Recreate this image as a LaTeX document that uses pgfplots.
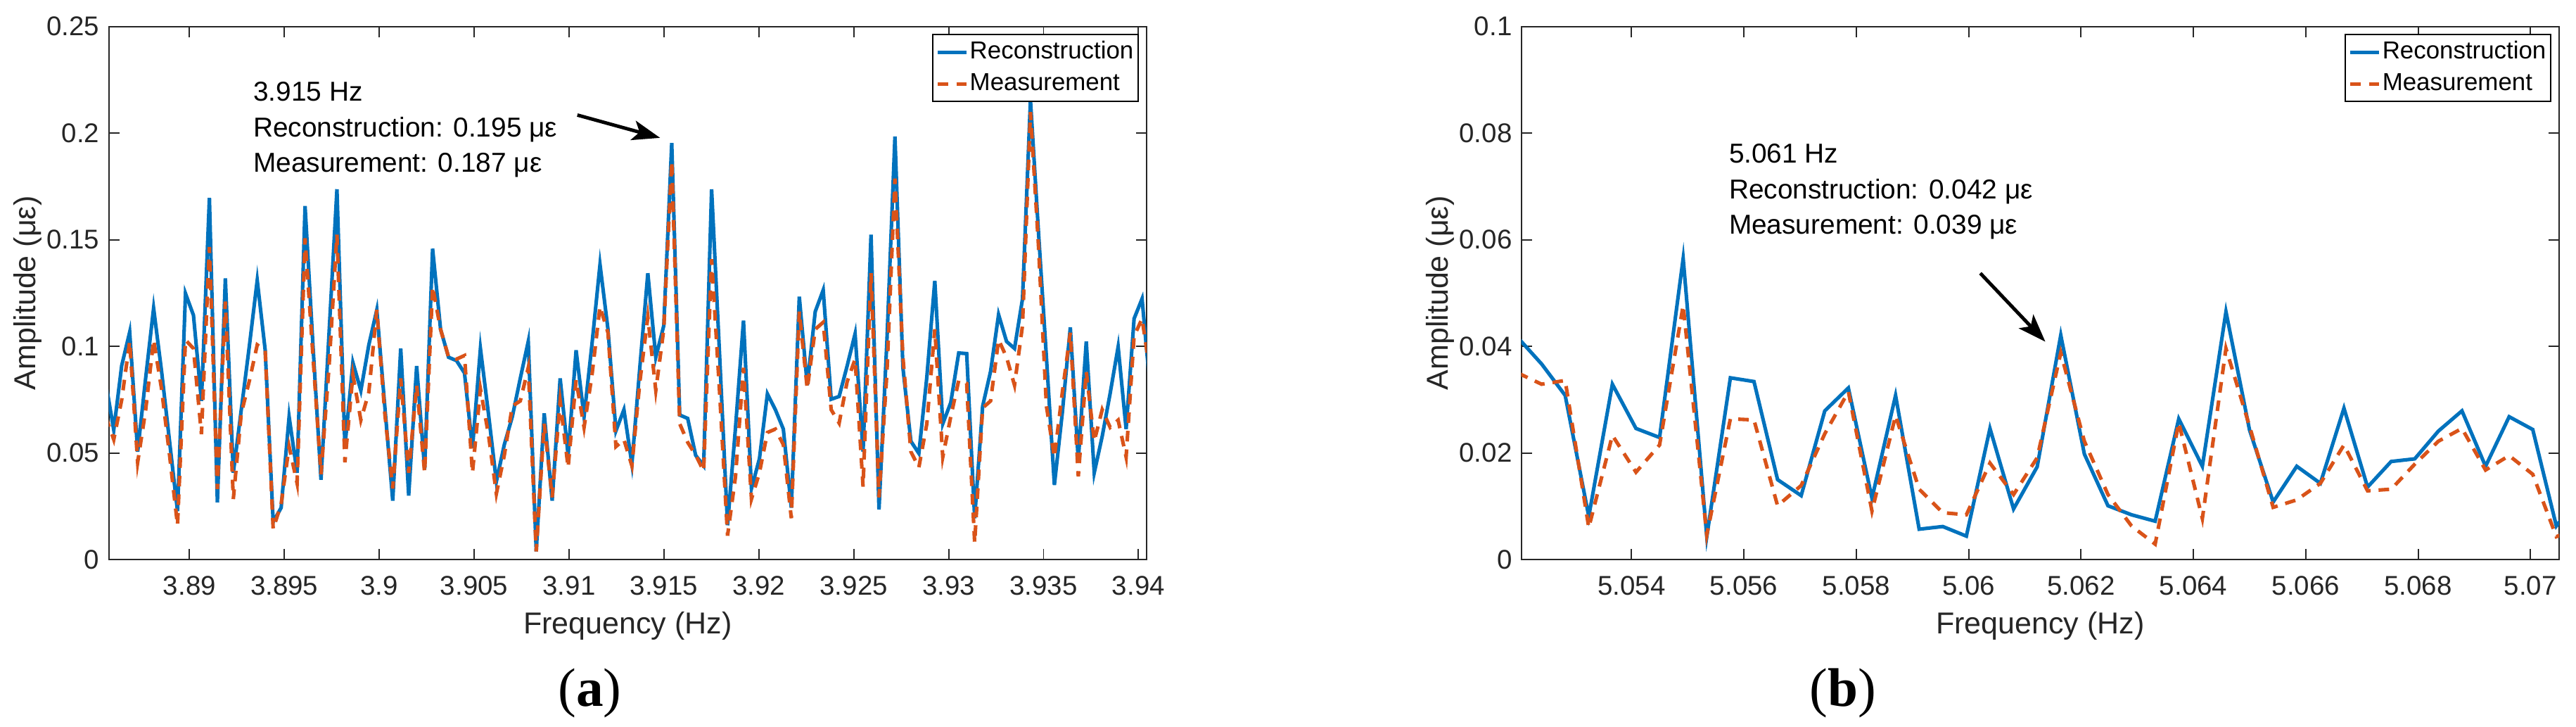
\documentclass[border=0pt]{standalone}
\usepackage{fontspec}
\setmainfont{Liberation Sans}
\newfontfamily\seriffont{Liberation Serif}
\usepackage{pgfplots}
\pgfplotsset{compat=1.18}
\usepackage{pgfplotstable}
\usetikzlibrary{arrows.meta}

\definecolor{mblue}{RGB}{0,114,189}
\definecolor{morange}{RGB}{217,83,25}
\definecolor{axgray}{RGB}{38,38,38}

\pgfplotstableread{
f rec meas
3.88559 0.0830 0.0670
3.88601 0.0608 0.0563
3.88643 0.0910 0.0750
3.88685 0.1067 0.1023
3.88727 0.0506 0.0456
3.88769 0.0850 0.0700
3.88811 0.1179 0.1031
3.88853 0.0883 0.0800
3.88895 0.0555 0.0490
3.88937 0.0227 0.0161
3.88979 0.1248 0.1030
3.89021 0.1146 0.0990
3.89063 0.0744 0.0588
3.89105 0.1696 0.1466
3.89147 0.0268 0.0330
3.89189 0.1319 0.1210
3.89231 0.0407 0.0284
3.89273 0.0703 0.0686
3.89315 0.0998 0.0836
3.89357 0.1310 0.1007
3.89399 0.0982 0.0980
3.89441 0.0177 0.0144
3.89483 0.0243 0.0260
3.89525 0.0670 0.0530
3.89567 0.0407 0.0358
3.89609 0.1658 0.1507
3.89651 0.1000 0.0950
3.89693 0.0374 0.0400
3.89735 0.1056 0.0900
3.89777 0.1737 0.1524
3.89819 0.0530 0.0456
3.89861 0.0924 0.0867
3.89903 0.0793 0.0654
3.89945 0.1007 0.0785
3.89987 0.1171 0.1171
3.90029 0.0720 0.0686
3.90071 0.0276 0.0333
3.90113 0.0990 0.0850
3.90155 0.0300 0.0407
3.90197 0.0908 0.0818
3.90239 0.0424 0.0407
3.90281 0.1458 0.1280
3.90323 0.1080 0.1080
3.90365 0.0949 0.0950
3.90407 0.0933 0.0940
3.90449 0.0875 0.0957
3.90491 0.0522 0.0407
3.90533 0.0990 0.0800
3.90575 0.0686 0.0588
3.90617 0.0366 0.0309
3.90659 0.0540 0.0490
3.90701 0.0670 0.0720
3.90743 0.0850 0.0744
3.90785 0.1023 0.0900
3.90827 0.0038 0.0038
3.90869 0.0686 0.0637
3.90911 0.0276 0.0292
3.90953 0.0850 0.0744
3.90995 0.0489 0.0432
3.91037 0.0982 0.0842
3.91079 0.0670 0.0620
3.91121 0.1013 0.0867
3.91163 0.1384 0.1187
3.91205 0.1080 0.1064
3.91247 0.0604 0.0530
3.91289 0.0703 0.0563
3.91331 0.0448 0.0440
3.91373 0.0903 0.0834
3.91415 0.1343 0.1138
3.91457 0.0949 0.0793
3.91499 0.1097 0.1080
3.91541 0.1954 0.1869
3.91583 0.0678 0.0637
3.91625 0.0662 0.0550
3.91667 0.0489 0.0490
3.91709 0.0440 0.0415
3.91751 0.1737 0.1409
3.91793 0.0962 0.0785
3.91835 0.0161 0.0112
3.91877 0.0620 0.0390
3.91919 0.1121 0.0900
3.91961 0.0333 0.0284
3.92003 0.0473 0.0407
3.92045 0.0777 0.0596
3.92087 0.0703 0.0612
3.92129 0.0612 0.0539
3.92171 0.0243 0.0194
3.92213 0.1233 0.1163
3.92255 0.0818 0.0801
3.92297 0.1163 0.1080
3.92339 0.1264 0.1113
3.92381 0.0752 0.0703
3.92423 0.0765 0.0640
3.92465 0.0908 0.0834
3.92507 0.1059 0.0940
3.92549 0.0506 0.0342
3.92591 0.1524 0.1343
3.92633 0.0235 0.0292
3.92675 0.1034 0.0880
3.92717 0.1984 0.1787
3.92759 0.0900 0.0950
3.92801 0.0555 0.0506
3.92843 0.0498 0.0432
3.92885 0.0856 0.0637
3.92927 0.1307 0.1080
3.92969 0.0637 0.0481
3.93011 0.0736 0.0670
3.93053 0.0969 0.0840
3.93095 0.0966 0.0826
3.93137 0.0194 0.0079
3.93179 0.0719 0.0711
3.93221 0.0883 0.0744
3.93263 0.1149 0.1031
3.93305 0.1023 0.0949
3.93347 0.0990 0.0818
3.93389 0.1222 0.1097
3.93431 0.2156 0.2099
3.93473 0.1540 0.1475
3.93515 0.0950 0.0720
3.93557 0.0350 0.0480
3.93599 0.0690 0.0785
3.93641 0.1089 0.1064
3.93683 0.0465 0.0390
3.93725 0.1023 0.0883
3.93767 0.0407 0.0555
3.93809 0.0578 0.0703
3.93851 0.0780 0.0620
3.93893 0.0998 0.0654
3.93935 0.0612 0.0481
3.93977 0.1130 0.1048
3.94019 0.1223 0.1130
3.94061 0.0806 0.0880
}\tabA

\pgfplotstableread{
f rec meas
5.05198 0.0416 0.0350
5.05240 0.0367 0.0329
5.05282 0.0308 0.0336
5.05324 0.0081 0.0060
5.05366 0.0329 0.0233
5.05408 0.0246 0.0164
5.05450 0.0229 0.0215
5.05492 0.0565 0.0477
5.05534 0.0043 0.0046
5.05576 0.0341 0.0264
5.05618 0.0334 0.0262
5.05660 0.0150 0.0101
5.05702 0.0120 0.0139
5.05744 0.0279 0.0236
5.05786 0.0322 0.0315
5.05828 0.0115 0.0091
5.05870 0.0308 0.0270
5.05912 0.0057 0.0132
5.05954 0.0062 0.0088
5.05996 0.0044 0.0084
5.06038 0.0246 0.0181
5.06080 0.0095 0.0122
5.06122 0.0174 0.0191
5.06164 0.0421 0.0388
5.06206 0.0198 0.0222
5.06248 0.0101 0.0122
5.06290 0.0084 0.0063
5.06332 0.0072 0.0029
5.06374 0.0264 0.0257
5.06416 0.0175 0.0077
5.06458 0.0465 0.0396
5.06500 0.0243 0.0250
5.06542 0.0108 0.0098
5.06584 0.0175 0.0112
5.06626 0.0143 0.0143
5.06668 0.0284 0.0215
5.06710 0.0136 0.0129
5.06752 0.0184 0.0132
5.06794 0.0189 0.0179
5.06836 0.0241 0.0222
5.06878 0.0279 0.0246
5.06920 0.0175 0.0168
5.06962 0.0268 0.0195
5.07004 0.0244 0.0160
5.07046 0.0063 0.0043
5.07088 0.0120 0.0060
}\tabB

\pgfplotsset{
  mystyle/.style={
    scale only axis, width=391.33pt, height=200.9pt,
    anchor=south west,
    axis line style={axgray, line width=0.5pt},
    tick style={axgray, line width=0.5pt},
    tick align=inside, major tick length=4pt,
    scaled x ticks=false, scaled y ticks=false,
    ymin=0,
    /pgf/number format/assume math mode=true,
    /pgf/number format/fixed,
    /pgf/number format/precision=3,
    ticklabel style={font=\fontsize{10.2}{12}\selectfont, text=axgray},
    xticklabel style={yshift=-2.6pt},
    every axis x label/.style={at={(axis description cs:0.5,-0.1392)}, anchor=base},
    every axis y label/.style={at={(axis description cs:-0.0705,0.5)}, rotate=90, anchor=base},
    label style={font=\fontsize{11.4}{13}\selectfont, text=axgray},
    xlabel={Frequency (Hz)},
    ylabel={Amplitude (με)},
    legend style={at={(axis description cs:0.99259,0.98606)}, anchor=north east,
      draw=black, line width=0.5pt, fill=white,
      font=\fontsize{9.25}{11}\selectfont,
      inner xsep=1.2pt, inner ysep=2.5pt, row sep=4pt,
      nodes={inner xsep=0.6pt, inner ysep=0pt}},
    legend cell align=left,
    legend image code/.code={\draw[##1] (0pt,0pt) -- (10.8pt,0pt);},
    rec/.style={mblue, line width=1.35pt},
    meas/.style={morange, line width=1.35pt, dash pattern=on 4pt off 3pt},
  }
}

\begin{document}
\begin{tikzpicture}
\path[use as bounding box] (0,0) rectangle (971.35pt,274pt);

\begin{axis}[mystyle, at={(41.03pt,63.1pt)},
  xmin=3.88575, xmax=3.94043, ymax=0.25,
  xtick={3.89,3.895,3.9,3.905,3.91,3.915,3.92,3.925,3.93,3.935,3.94},
  ytick={0,0.05,0.1,0.15,0.2,0.25}]
\addplot[rec] table[x=f, y=rec] {\tabA};
\addlegendentry{Reconstruction}
\addplot[meas] table[x=f, y=meas] {\tabA};
\addlegendentry{Measurement}
\node[anchor=base west, font=\fontsize{10.3}{12}\selectfont, inner sep=0pt] at (axis cs:3.893343,0.21492) {3.915 Hz};
\node[anchor=base west, font=\fontsize{10.3}{12}\selectfont, inner sep=0pt] at (axis cs:3.893343,0.19816) {Reconstruction: 0.195 με};
\node[anchor=base west, font=\fontsize{10.3}{12}\selectfont, inner sep=0pt] at (axis cs:3.893343,0.18179) {Measurement: 0.187 με};
\draw[line width=1.3pt, -{Stealth[length=10.5pt, width=7.5pt, inset=2.5pt]}] (axis cs:3.910437,0.20849) -- (axis cs:3.914796,0.19780);
\end{axis}

\begin{axis}[mystyle, at={(573.66pt,63.1pt)},
  xmin=5.05204, xmax=5.07051, ymax=0.1,
  xtick={5.054,5.056,5.058,5.06,5.062,5.064,5.066,5.068,5.07},
  ytick={0,0.02,0.04,0.06,0.08,0.1}]
\addplot[rec] table[x=f, y=rec] {\tabB};
\addlegendentry{Reconstruction}
\addplot[meas] table[x=f, y=meas] {\tabB};
\addlegendentry{Measurement}
\node[anchor=base west, font=\fontsize{10.3}{12}\selectfont, inner sep=0pt] at (axis cs:5.055727,0.07443) {5.061 Hz};
\node[anchor=base west, font=\fontsize{10.3}{12}\selectfont, inner sep=0pt] at (axis cs:5.055727,0.06768) {Reconstruction: 0.042 με};
\node[anchor=base west, font=\fontsize{10.3}{12}\selectfont, inner sep=0pt] at (axis cs:5.055727,0.06105) {Measurement: 0.039 με};
\draw[line width=1.3pt, -{Stealth[length=10.5pt, width=7.5pt, inset=2.5pt]}] (axis cs:5.060208,0.05372) -- (axis cs:5.061365,0.04088);
\end{axis}

\node[anchor=base, inner sep=0pt, font=\seriffont\fontsize{20.5}{24}\selectfont] at (222.4pt,7.7pt) {(\textbf{a})};
\node[anchor=base, inner sep=0pt, font=\seriffont\fontsize{20.5}{24}\selectfont] at (695pt,7.7pt) {(\textbf{b})};
\end{tikzpicture}
\end{document}
